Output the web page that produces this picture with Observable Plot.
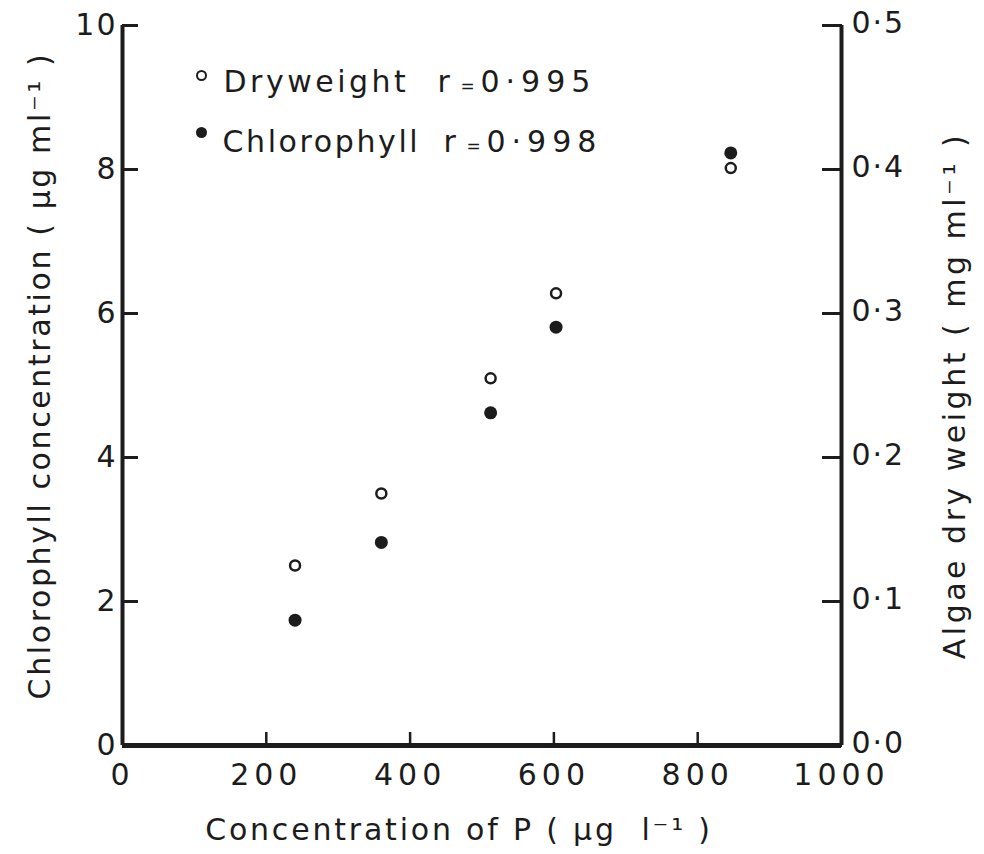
<!DOCTYPE html>
<html><head><meta charset="utf-8">
<script src="https://cdn.jsdelivr.net/npm/d3@7"></script>
<script src="https://cdn.jsdelivr.net/npm/@observablehq/plot@0.6"></script>
<style>
body{margin:0;background:#fff;}
#chart svg{font-family:"DejaVu Sans",sans-serif;}
#chart svg text{letter-spacing:3.5px;}
#chart svg g[aria-label="x-axis tick label"] text{letter-spacing:5px;}
#chart svg g[aria-label="y-axis tick label"] text{letter-spacing:2px;}
#chart svg g[aria-description="x-title"] text{letter-spacing:2.8px;}
#chart svg g[aria-description="y-title"] text{letter-spacing:2.6px;}
#chart svg g[aria-description="legend-name-2"] text{letter-spacing:2.6px;}
#chart svg g[aria-description="legend-r"] text{letter-spacing:6px;}
</style></head><body><div id="chart"></div>
<script>
const phosphorus = [240, 360, 512, 603, 846];
const chlorophyll = [1.74, 2.82, 4.62, 5.81, 8.23];
const dryweight = [0.125, 0.175, 0.255, 0.314, 0.401];
const xTicks = [0, 200, 400, 600, 800, 1000];
const yTicks = [0, 2, 4, 6, 8, 10];
const dwLabels = ["0·0", "0·1", "0·2", "0·3", "0·4", "0·5"];
const legendNames = ["Dryweight", "Chlorophyll"];
const legendR = ["0·995", "0·998"];
const xTitle = "Concentration of P ( µg  l⁻¹ )";
const yTitle = "Chlorophyll concentration ( µg ml⁻¹ )";
const y2Title = "Algae dry weight ( mg ml⁻¹ )";
const dwScale = 20; // 0.5 mg ml⁻¹ on the right axis ↔ 10 µg ml⁻¹ on the left

const chl = phosphorus.map((p, i) => ({p, v: chlorophyll[i]}));
const dw = phosphorus.map((p, i) => ({p, v: dryweight[i] * dwScale}));
const ink = "#1c1c1c";
const fs = 30;
const T = (txt, o) => Plot.text([txt], {textAnchor: "middle", lineAnchor: "middle", fontSize: fs, fill: ink, ...o});

const chart = Plot.plot({
  width: 984, height: 854,
  marginLeft: 122, marginRight: 143, marginTop: 25, marginBottom: 109,
  x: {domain: [0, 1000]},
  y: {domain: [0, 10]},
  style: {fontFamily: "DejaVu Sans, sans-serif", fontSize: "30px", color: ink, background: "#fff"},
  marks: [
    // inward ticks
    Plot.axisX(xTicks, {anchor: "bottom", tickSize: -13, strokeWidth: 2.5, tickFormat: () => "", label: null}),
    Plot.axisY(yTicks, {anchor: "left", tickSize: -16, strokeWidth: 3, tickFormat: () => "", label: null}),
    Plot.axisY(yTicks, {anchor: "right", tickSize: -20, strokeWidth: 3, tickFormat: () => "", label: null}),
    // tick labels
    Plot.axisX(xTicks, {anchor: "bottom", tickSize: 0, tickPadding: 18, fontSize: fs, label: null, tickFormat: d => `${d}`}),
    Plot.axisY(yTicks, {anchor: "left", tickSize: 0, tickPadding: 5, fontSize: fs, label: null, tickFormat: d => `${d}`}),
    Plot.axisY(yTicks, {anchor: "right", tickSize: 0, tickPadding: 10, dy: -2, fontSize: fs, label: null,
      tickFormat: d => dwLabels[yTicks.indexOf(d)]}),
    // axis lines
    Plot.ruleX([0, 1000], {stroke: ink, strokeWidth: 4}),
    Plot.ruleY([0], {stroke: ink, strokeWidth: 5}),
    // data
    Plot.dot(chl, {x: "p", y: "v", r: 6.5, fill: ink, stroke: null}),
    Plot.dot(dw, {x: "p", y: "v", r: 5, fill: "white", stroke: ink, strokeWidth: 2.5}),
    // axis titles
    T(xTitle, {frameAnchor: "bottom", dx: -23, dy: 85, ariaDescription: "x-title"}),
    T(yTitle, {frameAnchor: "left", dx: -82, dy: -10, rotate: -90, ariaDescription: "y-title"}),
    T(y2Title, {frameAnchor: "right", dx: 114, dy: 10, rotate: -90, ariaDescription: "y2-title"}),
    // legend
    Plot.dot([0], {frameAnchor: "top-left", x: null, y: null, dx: 79, dy: 50, r: 4.5, fill: "white", stroke: ink, strokeWidth: 2}),
    Plot.dot([0], {frameAnchor: "top-left", x: null, y: null, dx: 79, dy: 107, r: 5.5, fill: ink, stroke: null}),
    T(legendNames[0], {frameAnchor: "top-left", textAnchor: "start", dx: 101, dy: 57, ariaDescription: "legend-name-1"}),
    T(legendNames[1], {frameAnchor: "top-left", textAnchor: "start", dx: 100, dy: 117, ariaDescription: "legend-name-2"}),
    T("r", {frameAnchor: "top-left", textAnchor: "start", dx: 315, dy: 57}),
    T("r", {frameAnchor: "top-left", textAnchor: "start", dx: 321, dy: 117}),
    T("=", {frameAnchor: "top-left", textAnchor: "start", dx: 338, dy: 61, fontSize: 17}),
    T("=", {frameAnchor: "top-left", textAnchor: "start", dx: 344, dy: 121, fontSize: 17}),
    T(legendR[0], {frameAnchor: "top-left", textAnchor: "start", dx: 358, dy: 57, ariaDescription: "legend-r"}),
    T(legendR[1], {frameAnchor: "top-left", textAnchor: "start", dx: 364, dy: 117, ariaDescription: "legend-r"})
  ]
});
document.getElementById("chart").appendChild(chart);
</script></body></html>
